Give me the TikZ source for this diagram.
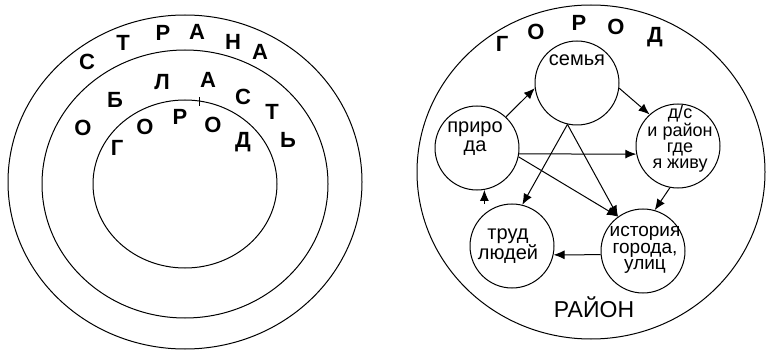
\documentclass[tikz,border=0pt]{standalone}
\usepackage{fontspec}
\setmainfont{Liberation Sans}
\usetikzlibrary{arrows.meta}

\begin{document}
\begin{tikzpicture}[x=1pt, y=-1pt,
    ring/.style={draw=black, line width=1pt},
    bukva/.style={font=\fontsize{22}{22}\selectfont\bfseries,
                  text height=15.5pt, text depth=0pt, inner sep=0pt},
    krug/.style={circle, draw, line width=1pt, minimum size=84pt, inner sep=0pt},
    txt/.style={font=\fontsize{20}{17}\selectfont, align=center, inner sep=0pt},
    arr/.style={-{Latex[length=11pt, width=9pt]}, line width=1pt}
  ]
  \useasboundingbox (0,0) rectangle (766,350);

  % left: country, region, city
  \draw[ring] (185,182) ellipse [x radius=177, y radius=167];
  \draw[ring] (185,184) ellipse [x radius=143, y radius=134];
  \draw[ring] (185,184) ellipse [x radius=92, y radius=84];
  \draw[line width=0.8pt] (199,97) -- (199,106);

  \foreach \x/\y/\c [count=\i] in {87/62/С, 123/43/Т, 163/33/Р, 197/32/А,
                                   233/42/Н, 260/52/А}
    \node[bukva] (strana\i) at (\x,\y) {\c};
  \foreach \x/\y/\c [count=\i] in {83/128/О, 115/100/Б, 162/82/Л, 208/80/А,
                                   243/97/С, 272/112/Т, 288/140/Ь}
    \node[bukva] (oblast\i) at (\x,\y) {\c};
  \foreach \x/\y/\c [count=\i] in {117/148/Г, 145/127/О, 180/117/Р,
                                   213/125/О, 243/140/Д}
    \node[bukva] (gorod\i) at (\x,\y) {\c};

  % right: city with district
  \draw[ring] (591,172) ellipse [x radius=174, y radius=167];
  \foreach \x/\y/\c [count=\i] in {502/44/Г, 536/32/О, 579/23/Р,
                                   616/27/О, 655/35/Д}
    \node[bukva] (gorodR\i) at (\x,\y) {\c};

  \node[krug, label={[txt, yshift=23pt]center:семья}] (semya) at (577,83) {};
  \node[krug, label={[txt, font=\fontsize{20}{19}\selectfont, xshift=-2pt, yshift=9pt]center:приро\\да}]
        (priroda) at (477,148) {};
  \node[krug, label={[txt, font=\fontsize{18}{15.7}\selectfont, xshift=2pt, yshift=7pt]center:д/с\\и район\\где\\я живу}]
        (ds) at (678,146) {};
  \node[krug, label={[txt, font=\fontsize{19}{16.5}\selectfont, xshift=2pt, yshift=1pt]center:история\\города,\\улиц}]
        (istoriya) at (643,251) {};
  \node[krug, label={[txt, font=\fontsize{20}{20}\selectfont, xshift=-4pt]center:труд\\людей}]
        (trud) at (512,246) {};

  \node[font=\fontsize{23}{23}\selectfont, anchor=base, inner sep=0pt] (rayon) at (594,317) {РАЙОН};

  % links
  \draw[arr] (priroda.47) -- (semya.187);
  \draw[arr] (semya.-7) -- (ds.132);
  \draw[arr] (priroda.-8) -- (ds.191);
  \draw[arr] (ds.-101) -- (istoriya.74);
  \draw[arr] (istoriya.185) -- (trud.-12);
  \draw[arr] (priroda.-80 |- trud.north) -- (priroda.-80);
  \draw[arr] (semya.-103) -- (trud.76);
  \draw[arr] (semya.-103) -- (istoriya.126);
  \draw[arr] (priroda.-12) -- (istoriya.126);
\end{tikzpicture}
\end{document}
